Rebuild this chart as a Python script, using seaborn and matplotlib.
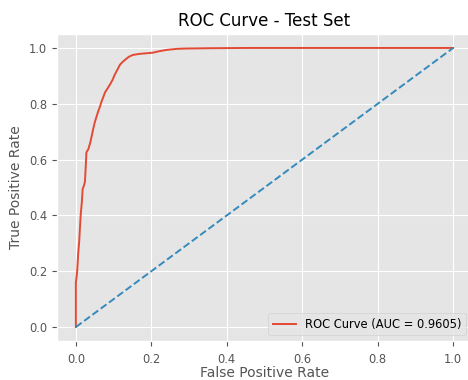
import matplotlib
matplotlib.use("Agg")
import matplotlib.pyplot as plt
import seaborn as sns
import pandas as pd

# ROC points
fpr = [0.0, 0.0, 0.002, 0.0035, 0.006, 0.009, 0.011, 0.013, 0.016, 0.018, 0.021, 0.024,
       0.026, 0.028, 0.033, 0.038, 0.042, 0.046, 0.05, 0.055, 0.059, 0.064, 0.068,
       0.073, 0.077, 0.084, 0.09, 0.097, 0.103, 0.11, 0.117, 0.124, 0.13, 0.14,
       0.151, 0.17, 0.204, 0.22, 0.24, 0.27, 0.294, 0.35, 0.45, 0.6, 0.8, 1.0]
tpr = [0.0, 0.16, 0.18, 0.20, 0.26, 0.31, 0.36, 0.405, 0.45, 0.495, 0.505, 0.52,
       0.57, 0.626, 0.637, 0.66, 0.684, 0.71, 0.733, 0.755, 0.772, 0.79, 0.808,
       0.825, 0.84, 0.855, 0.868, 0.885, 0.904, 0.922, 0.94, 0.95, 0.957, 0.968,
       0.975, 0.979, 0.983, 0.988, 0.993, 0.997, 0.998, 0.999, 1.0, 1.0, 1.0, 1.0]
auc = 0.9605
chance = [0.0, 1.0]

def main():
    plt.style.use("ggplot")
    plt.rcParams["font.size"] = 8.3
    fig = plt.figure(figsize=(4.68, 3.8), dpi=100)
    ax = fig.add_axes([57 / 468, 39 / 380, 415 / 468, 307 / 380])

    df = pd.DataFrame({"fpr": fpr, "tpr": tpr})
    sns.lineplot(data=df, x="fpr", y="tpr", sort=False, estimator=None,
                 color="#E24A33", linewidth=1.4, label=f"ROC Curve (AUC = {auc:.4f})", ax=ax)
    sns.lineplot(x=chance, y=chance, color="#348ABD", linestyle="--", linewidth=1.4,
                 legend=False, ax=ax)

    ax.set_xlim(-0.05, 1.05)
    ax.set_ylim(-0.05, 1.05)
    ax.tick_params(axis="x", pad=5)
    ax.set_title("ROC Curve - Test Set")
    ax.set_xlabel("False Positive Rate", labelpad=0)
    ax.set_ylabel("True Positive Rate")
    ax.legend(loc="lower right")

    fig.savefig("out.png", dpi=100)
    plt.close(fig)

if __name__ == "__main__":
    main()
